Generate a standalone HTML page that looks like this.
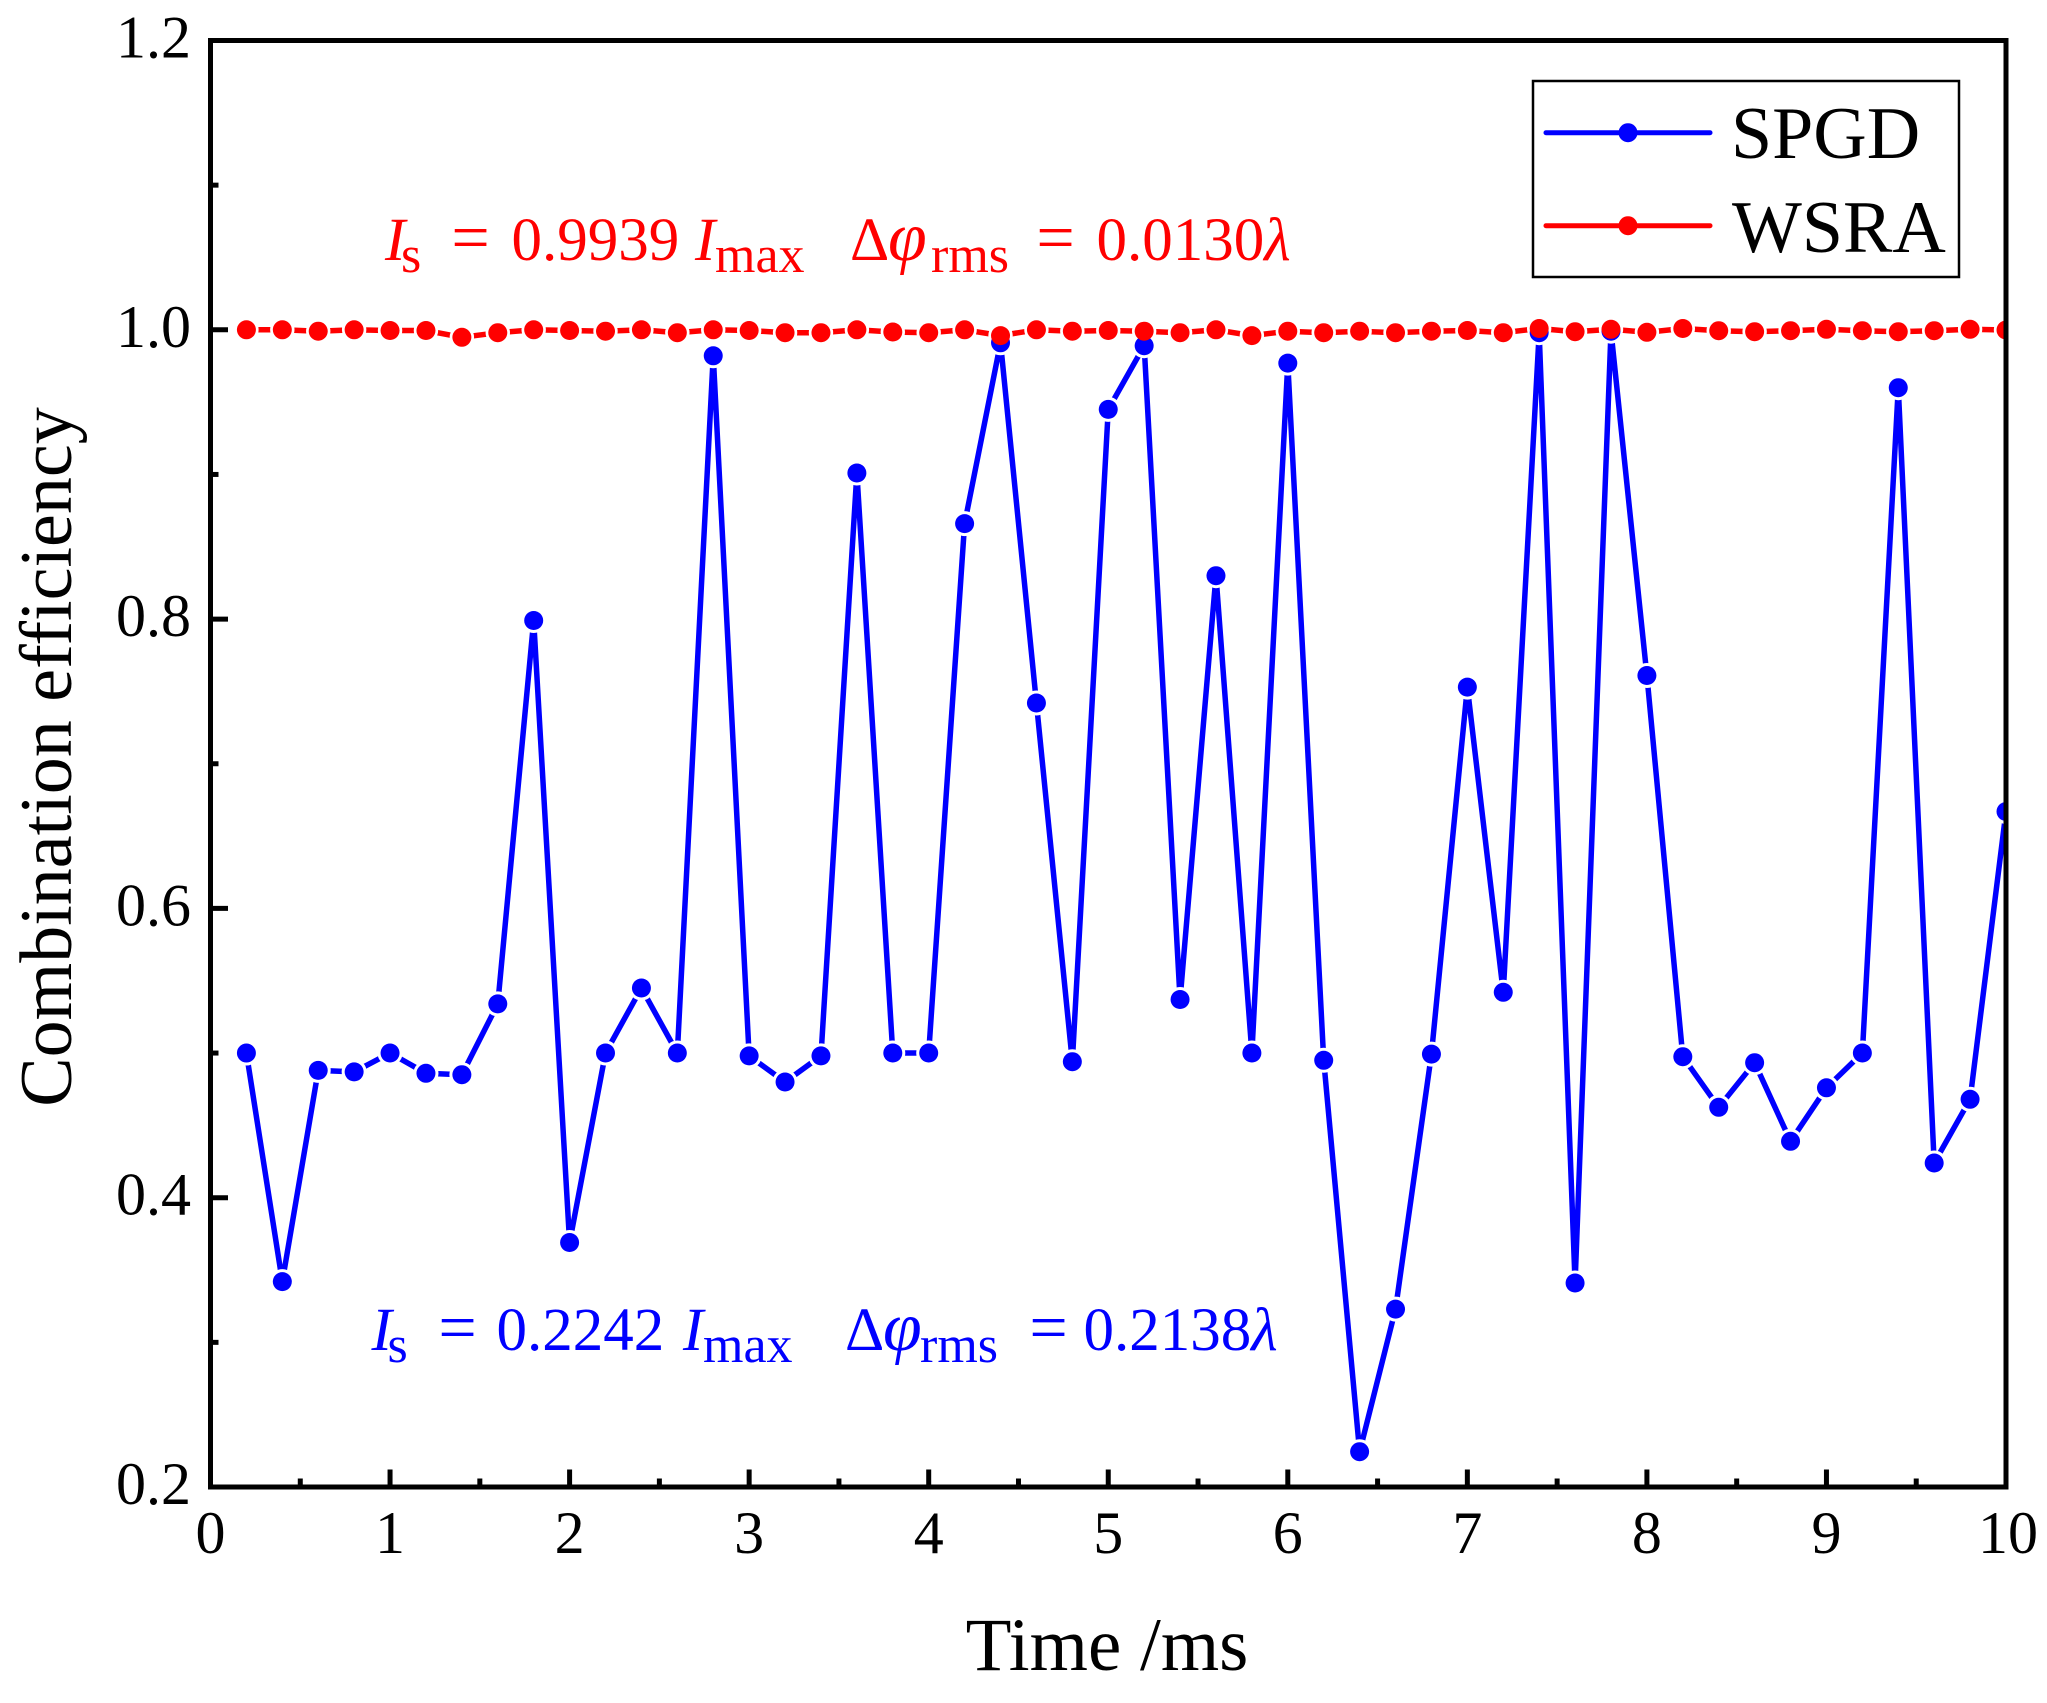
<!DOCTYPE html>
<html>
<head>
<meta charset="utf-8">
<style>
  html, body { margin: 0; padding: 0; background: #ffffff; }
  svg { display: block; }
  text { font-family: "Liberation Serif", "DejaVu Serif", serif; }
</style>
</head>
<body>
<svg width="2047" height="1703" viewBox="0 0 2047 1703" xmlns="http://www.w3.org/2000/svg">
  <defs>
    <clipPath id="plotclip">
      <rect x="210.5" y="40.5" width="1795.5" height="1446.5"/>
    </clipPath>
    <g id="bpts">
      <circle cx="246.41" cy="1053.05" r="9.5"/><circle cx="282.32" cy="1281.6" r="9.5"/><circle cx="318.23" cy="1070.4" r="9.5"/><circle cx="354.14" cy="1071.9" r="9.5"/><circle cx="390.05" cy="1053" r="9.5"/><circle cx="425.96" cy="1073.3" r="9.5"/><circle cx="461.87" cy="1074.7" r="9.5"/><circle cx="497.78" cy="1003.9" r="9.5"/><circle cx="533.69" cy="620.5" r="9.5"/><circle cx="569.6" cy="1242.5" r="9.5"/>
      <circle cx="605.51" cy="1053" r="9.5"/><circle cx="641.42" cy="988" r="9.5"/><circle cx="677.33" cy="1053" r="9.5"/><circle cx="713.24" cy="355.8" r="9.5"/><circle cx="749.15" cy="1055.9" r="9.5"/><circle cx="785.06" cy="1082" r="9.5"/><circle cx="820.97" cy="1055.9" r="9.5"/><circle cx="856.88" cy="473" r="9.5"/><circle cx="892.79" cy="1053" r="9.5"/><circle cx="928.7" cy="1053" r="9.5"/>
      <circle cx="964.61" cy="523.6" r="9.5"/><circle cx="1000.52" cy="342.8" r="9.5"/><circle cx="1036.43" cy="703" r="9.5"/><circle cx="1072.34" cy="1061.7" r="9.5"/><circle cx="1108.25" cy="409.4" r="9.5"/><circle cx="1144.16" cy="345.7" r="9.5"/><circle cx="1180.07" cy="999.5" r="9.5"/><circle cx="1215.98" cy="575.7" r="9.5"/><circle cx="1251.89" cy="1053" r="9.5"/><circle cx="1287.8" cy="363.1" r="9.5"/>
      <circle cx="1323.71" cy="1060.3" r="9.5"/><circle cx="1359.62" cy="1451.7" r="9.5"/><circle cx="1395.53" cy="1309.1" r="9.5"/><circle cx="1431.44" cy="1054.1" r="9.5"/><circle cx="1467.35" cy="687.1" r="9.5"/><circle cx="1503.26" cy="992.3" r="9.5"/><circle cx="1539.17" cy="332.7" r="9.5"/><circle cx="1575.08" cy="1283" r="9.5"/><circle cx="1610.99" cy="331.2" r="9.5"/><circle cx="1646.9" cy="675.5" r="9.5"/>
      <circle cx="1682.81" cy="1056.7" r="9.5"/><circle cx="1718.72" cy="1107.3" r="9.5"/><circle cx="1754.63" cy="1062.7" r="9.5"/><circle cx="1790.54" cy="1141.3" r="9.5"/><circle cx="1826.45" cy="1087.8" r="9.5"/><circle cx="1862.36" cy="1053" r="9.5"/><circle cx="1898.27" cy="387.7" r="9.5"/><circle cx="1934.18" cy="1163" r="9.5"/><circle cx="1970.09" cy="1099.3" r="9.5"/><circle cx="2006" cy="811.5" r="9.5"/>
    </g>
    <g id="rpts">
      <circle cx="246.41" cy="329.8" r="9.5"/><circle cx="282.32" cy="329.8" r="9.5"/><circle cx="318.23" cy="331.2" r="9.5"/><circle cx="354.14" cy="329.8" r="9.5"/><circle cx="390.05" cy="330.5" r="9.5"/><circle cx="425.96" cy="330.5" r="9.5"/><circle cx="461.87" cy="337.3" r="9.5"/><circle cx="497.78" cy="332.7" r="9.5"/><circle cx="533.69" cy="329.8" r="9.5"/><circle cx="569.6" cy="330.5" r="9.5"/>
      <circle cx="605.51" cy="331.2" r="9.5"/><circle cx="641.42" cy="329.8" r="9.5"/><circle cx="677.33" cy="332.7" r="9.5"/><circle cx="713.24" cy="329.8" r="9.5"/><circle cx="749.15" cy="330.5" r="9.5"/><circle cx="785.06" cy="332.7" r="9.5"/><circle cx="820.97" cy="332.7" r="9.5"/><circle cx="856.88" cy="329.8" r="9.5"/><circle cx="892.79" cy="332" r="9.5"/><circle cx="928.7" cy="332.7" r="9.5"/>
      <circle cx="964.61" cy="329.8" r="9.5"/><circle cx="1000.52" cy="335.6" r="9.5"/><circle cx="1036.43" cy="329.8" r="9.5"/><circle cx="1072.34" cy="331.2" r="9.5"/><circle cx="1108.25" cy="330.5" r="9.5"/><circle cx="1144.16" cy="331.2" r="9.5"/><circle cx="1180.07" cy="332.7" r="9.5"/><circle cx="1215.98" cy="329.8" r="9.5"/><circle cx="1251.89" cy="335.6" r="9.5"/><circle cx="1287.8" cy="331.2" r="9.5"/>
      <circle cx="1323.71" cy="332.7" r="9.5"/><circle cx="1359.62" cy="331.2" r="9.5"/><circle cx="1395.53" cy="332.7" r="9.5"/><circle cx="1431.44" cy="331.2" r="9.5"/><circle cx="1467.35" cy="330.5" r="9.5"/><circle cx="1503.26" cy="332.7" r="9.5"/><circle cx="1539.17" cy="328.5" r="9.5"/><circle cx="1575.08" cy="331.7" r="9.5"/><circle cx="1610.99" cy="329.3" r="9.5"/><circle cx="1646.9" cy="332.3" r="9.5"/>
      <circle cx="1682.81" cy="328.5" r="9.5"/><circle cx="1718.72" cy="330.7" r="9.5"/><circle cx="1754.63" cy="331.7" r="9.5"/><circle cx="1790.54" cy="330.7" r="9.5"/><circle cx="1826.45" cy="329.3" r="9.5"/><circle cx="1862.36" cy="330.7" r="9.5"/><circle cx="1898.27" cy="331.7" r="9.5"/><circle cx="1934.18" cy="330.7" r="9.5"/><circle cx="1970.09" cy="329.3" r="9.5"/><circle cx="2006" cy="330" r="9.5"/>
    </g>
    <mask id="bmask" maskUnits="userSpaceOnUse" x="0" y="0" width="2047" height="1703">
      <rect x="0" y="0" width="2047" height="1703" fill="#ffffff"/>
      <use href="#bpts" fill="#000000" stroke="#000000" stroke-width="6"/>
    </mask>
    <mask id="rmask" maskUnits="userSpaceOnUse" x="0" y="0" width="2047" height="1703">
      <rect x="0" y="0" width="2047" height="1703" fill="#ffffff"/>
      <use href="#rpts" fill="#000000" stroke="#000000" stroke-width="5.4"/>
    </mask>
  </defs>

  <rect x="0" y="0" width="2047" height="1703" fill="#ffffff"/>

  <!-- Data -->
  <g clip-path="url(#plotclip)">
    <g mask="url(#bmask)">
      <polyline fill="none" stroke="#0000ff" stroke-width="5.5" stroke-linejoin="round"
        points="246.41,1053.05 282.32,1281.6 318.23,1070.4 354.14,1071.9 390.05,1053 425.96,1073.3 461.87,1074.7 497.78,1003.9 533.69,620.5 569.6,1242.5 605.51,1053 641.42,988 677.33,1053 713.24,355.8 749.15,1055.9 785.06,1082 820.97,1055.9 856.88,473 892.79,1053 928.7,1053 964.61,523.6 1000.52,342.8 1036.43,703 1072.34,1061.7 1108.25,409.4 1144.16,345.7 1180.07,999.5 1215.98,575.7 1251.89,1053 1287.8,363.1 1323.71,1060.3 1359.62,1451.7 1395.53,1309.1 1431.44,1054.1 1467.35,687.1 1503.26,992.3 1539.17,332.7 1575.08,1283 1610.99,331.2 1646.9,675.5 1682.81,1056.7 1718.72,1107.3 1754.63,1062.7 1790.54,1141.3 1826.45,1087.8 1862.36,1053 1898.27,387.7 1934.18,1163 1970.09,1099.3 2006,811.5"/>
    </g>
    <use href="#bpts" fill="#0000ff"/>

    <g mask="url(#rmask)">
      <polyline fill="none" stroke="#ff0000" stroke-width="5.5" stroke-linejoin="round"
        points="246.41,329.8 282.32,329.8 318.23,331.2 354.14,329.8 390.05,330.5 425.96,330.5 461.87,337.3 497.78,332.7 533.69,329.8 569.6,330.5 605.51,331.2 641.42,329.8 677.33,332.7 713.24,329.8 749.15,330.5 785.06,332.7 820.97,332.7 856.88,329.8 892.79,332 928.7,332.7 964.61,329.8 1000.52,335.6 1036.43,329.8 1072.34,331.2 1108.25,330.5 1144.16,331.2 1180.07,332.7 1215.98,329.8 1251.89,335.6 1287.8,331.2 1323.71,332.7 1359.62,331.2 1395.53,332.7 1431.44,331.2 1467.35,330.5 1503.26,332.7 1539.17,328.5 1575.08,331.7 1610.99,329.3 1646.9,332.3 1682.81,328.5 1718.72,330.7 1754.63,331.7 1790.54,330.7 1826.45,329.3 1862.36,330.7 1898.27,331.7 1934.18,330.7 1970.09,329.3 2006,330"/>
    </g>
    <use href="#rpts" fill="#ff0000"/>
  </g>

  <!-- Axes frame -->
  <rect x="210.5" y="40.5" width="1795.5" height="1446.5" fill="none" stroke="#000000" stroke-width="5" stroke-linejoin="miter"/>

  <!-- X ticks -->
  <g stroke="#000000" stroke-width="5">
    <line x1="390.05" y1="1487" x2="390.05" y2="1469.5"/>
    <line x1="569.6" y1="1487" x2="569.6" y2="1469.5"/>
    <line x1="749.15" y1="1487" x2="749.15" y2="1469.5"/>
    <line x1="928.7" y1="1487" x2="928.7" y2="1469.5"/>
    <line x1="1108.25" y1="1487" x2="1108.25" y2="1469.5"/>
    <line x1="1287.8" y1="1487" x2="1287.8" y2="1469.5"/>
    <line x1="1467.35" y1="1487" x2="1467.35" y2="1469.5"/>
    <line x1="1646.9" y1="1487" x2="1646.9" y2="1469.5"/>
    <line x1="1826.45" y1="1487" x2="1826.45" y2="1469.5"/>
    <line x1="300.28" y1="1487" x2="300.28" y2="1478.5"/>
    <line x1="479.83" y1="1487" x2="479.83" y2="1478.5"/>
    <line x1="659.38" y1="1487" x2="659.38" y2="1478.5"/>
    <line x1="838.93" y1="1487" x2="838.93" y2="1478.5"/>
    <line x1="1018.48" y1="1487" x2="1018.48" y2="1478.5"/>
    <line x1="1198.03" y1="1487" x2="1198.03" y2="1478.5"/>
    <line x1="1377.58" y1="1487" x2="1377.58" y2="1478.5"/>
    <line x1="1557.13" y1="1487" x2="1557.13" y2="1478.5"/>
    <line x1="1736.68" y1="1487" x2="1736.68" y2="1478.5"/>
    <line x1="1916.23" y1="1487" x2="1916.23" y2="1478.5"/>
  </g>

  <!-- Y ticks -->
  <g stroke="#000000" stroke-width="5">
    <line x1="210.5" y1="1197.7" x2="228" y2="1197.7"/>
    <line x1="210.5" y1="908.4" x2="228" y2="908.4"/>
    <line x1="210.5" y1="619.1" x2="228" y2="619.1"/>
    <line x1="210.5" y1="329.8" x2="228" y2="329.8"/>
    <line x1="210.5" y1="1342.35" x2="218.5" y2="1342.35"/>
    <line x1="210.5" y1="1053.05" x2="218.5" y2="1053.05"/>
    <line x1="210.5" y1="763.75" x2="218.5" y2="763.75"/>
    <line x1="210.5" y1="474.45" x2="218.5" y2="474.45"/>
    <line x1="210.5" y1="185.15" x2="218.5" y2="185.15"/>
  </g>

  <!-- Tick labels -->
  <g font-size="60" fill="#000000">
    <text x="191" y="1504" text-anchor="end">0.2</text>
    <text x="191" y="1214.7" text-anchor="end">0.4</text>
    <text x="191" y="925.4" text-anchor="end">0.6</text>
    <text x="191" y="636.1" text-anchor="end">0.8</text>
    <text x="191" y="346.8" text-anchor="end">1.0</text>
    <text x="191" y="57.5" text-anchor="end">1.2</text>

    <text x="210.5" y="1553" text-anchor="middle">0</text>
    <text x="390.05" y="1553" text-anchor="middle">1</text>
    <text x="569.6" y="1553" text-anchor="middle">2</text>
    <text x="749.15" y="1553" text-anchor="middle">3</text>
    <text x="928.7" y="1553" text-anchor="middle">4</text>
    <text x="1108.25" y="1553" text-anchor="middle">5</text>
    <text x="1287.8" y="1553" text-anchor="middle">6</text>
    <text x="1467.35" y="1553" text-anchor="middle">7</text>
    <text x="1646.9" y="1553" text-anchor="middle">8</text>
    <text x="1826.45" y="1553" text-anchor="middle">9</text>
    <text x="2008" y="1553" text-anchor="middle">10</text>
  </g>

  <!-- Axis titles -->
  <text x="1107" y="1670" font-size="75" text-anchor="middle" fill="#000000">Time /ms</text>
  <text transform="translate(71,757) rotate(-90)" font-size="74" text-anchor="middle" fill="#000000">Combination efficiency</text>

  <!-- Legend -->
  <rect x="1533" y="81" width="426" height="196" fill="#ffffff" stroke="#000000" stroke-width="2.5"/>
  <line x1="1546" y1="132.7" x2="1710" y2="132.7" stroke="#0000ff" stroke-width="5" stroke-linecap="round"/>
  <circle cx="1628" cy="132.7" r="9.5" fill="#0000ff"/>
  <line x1="1546" y1="225.7" x2="1710" y2="225.7" stroke="#ff0000" stroke-width="5" stroke-linecap="round"/>
  <circle cx="1628" cy="225.7" r="9.5" fill="#ff0000"/>
  <text x="1731" y="158" font-size="74" fill="#000000">SPGD</text>
  <text x="1732" y="252" font-size="74" fill="#000000">WSRA</text>

  <!-- Red annotation -->
  <g fill="#ff0000" font-size="61">
    <text x="385" y="260" font-style="italic">I</text>
    <text x="401" y="272" font-size="52">s</text>
    <text x="470.5" y="260" font-size="68" text-anchor="middle">=</text>
    <text x="511.5" y="260">0.9939</text>
    <text x="695" y="260" font-style="italic">I</text>
    <text x="715" y="272" font-size="52">max</text>
    <text x="850" y="260">Δ</text>
    <text x="888" y="260" font-size="70" font-style="italic">φ</text>
    <text x="931" y="272" font-size="52">rms</text>
    <text x="1055.5" y="260" font-size="68" text-anchor="middle">=</text>
    <text x="1096.5" y="260">0.0130<tspan font-style="italic">λ</tspan></text>
  </g>

  <!-- Blue annotation -->
  <g fill="#0000ff" font-size="61">
    <text x="371.5" y="1350" font-style="italic">I</text>
    <text x="387.5" y="1362" font-size="52">s</text>
    <text x="457.5" y="1350" font-size="68" text-anchor="middle">=</text>
    <text x="496.5" y="1350">0.2242</text>
    <text x="683" y="1350" font-style="italic">I</text>
    <text x="703" y="1362" font-size="52">max</text>
    <text x="845" y="1350">Δ</text>
    <text x="883" y="1350" font-size="70" font-style="italic">φ</text>
    <text x="920" y="1362" font-size="52">rms</text>
    <text x="1048.5" y="1350" font-size="68" text-anchor="middle">=</text>
    <text x="1083.5" y="1350">0.2138<tspan font-style="italic">λ</tspan></text>
  </g>
</svg>
</body>
</html>
